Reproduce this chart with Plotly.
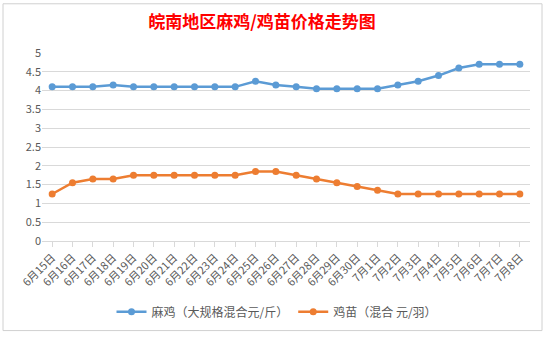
import plotly.graph_objects as go

dates = ["6月15日","6月16日","6月17日","6月18日","6月19日","6月20日","6月21日","6月22日",
         "6月23日","6月24日","6月25日","6月26日","6月27日","6月28日","6月29日","6月30日",
         "7月1日","7月2日","7月3日","7月4日","7月5日","7月6日","7月7日","7月8日"]
maji = [4.1,4.1,4.1,4.15,4.1,4.1,4.1,4.1,4.1,4.1,4.25,4.15,4.1,4.05,4.05,4.05,4.05,4.15,4.25,4.4,4.6,4.7,4.7,4.7]
jimiao = [1.25,1.55,1.65,1.65,1.75,1.75,1.75,1.75,1.75,1.75,1.85,1.85,1.75,1.65,1.55,1.45,1.35,1.25,1.25,1.25,1.25,1.25,1.25,1.25]
name1 = "麻鸡（大规格混合元/斤）"
name2 = "鸡苗（混合 元/羽）"
title = "皖南地区麻鸡/鸡苗价格走势图"

font = "Noto Sans CJK SC, Microsoft YaHei, sans-serif"
W, H = 547, 338
L, R, T, B = 42, 17, 53, 94
pw, ph = W - L - R, H - T - B

def px2x(px):
    return (px - L) / pw
def py2y(py):
    return (H - B - py) / ph

fig = go.Figure()
fig.add_trace(go.Scatter(x=list(range(len(dates))), y=maji, name=name1, mode="lines+markers",
                         line=dict(color="#5B9BD5", width=2.5), marker=dict(size=7, color="#5B9BD5")))
fig.add_trace(go.Scatter(x=list(range(len(dates))), y=jimiao, name=name2, mode="lines+markers",
                         line=dict(color="#ED7D31", width=2.5), marker=dict(size=7, color="#ED7D31")))

fig.update_layout(
    width=W, height=H, margin=dict(l=L, r=R, t=T, b=B),
    paper_bgcolor="white", plot_bgcolor="white",
    font=dict(family=font, color="#595959", size=11),
    title=dict(text="<b>" + title + "</b>", x=262 / W, xanchor="center", y=1 - 22 / H, yanchor="middle",
               font=dict(family=font, size=17, color="#FF0000")),
    showlegend=True,
    legend=dict(orientation="h", x=px2x(277), xanchor="center", y=py2y(316), yanchor="middle",
                font=dict(size=12, color="#595959"), itemwidth=30, bgcolor="rgba(0,0,0,0)"),
    xaxis=dict(tickmode="array", tickvals=list(range(len(dates))), ticktext=dates,
               range=[-0.5, len(dates) - 0.5], tickangle=-45, showgrid=False,
               showline=True, linecolor="#D9D9D9", linewidth=1,
               ticks="outside", tickson="boundaries", ticklen=5, tickcolor="#D9D9D9",
               tickfont=dict(size=11, color="#595959"), zeroline=False),
    yaxis=dict(range=[0, 5], dtick=0.5, showgrid=True, gridcolor="#D9D9D9", gridwidth=1,
               zeroline=False, showline=False, ticks="", tickfont=dict(size=11, color="#595959"),
               tickformat="~g"),
    shapes=[dict(type="rect", xref="paper", yref="paper",
                 x0=px2x(3), x1=px2x(542), y0=py2y(335), y1=py2y(3),
                 line=dict(color="#D0D0D0", width=1), layer="below")],
)

fig.write_html("out.html")
